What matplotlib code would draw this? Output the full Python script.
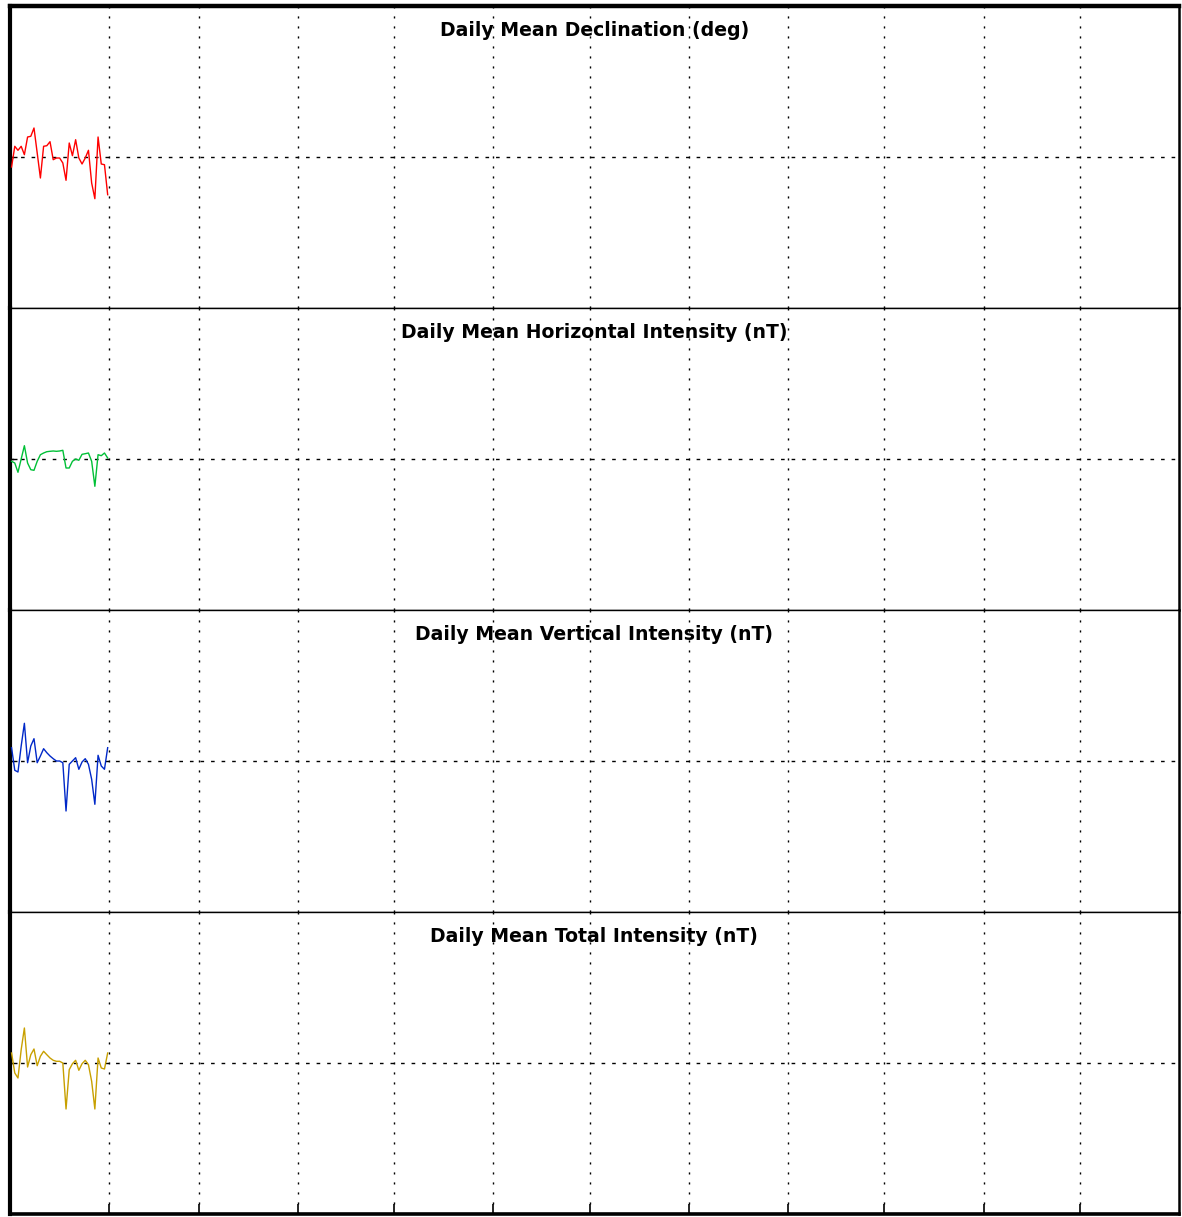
import datetime as dt
import matplotlib
matplotlib.use("Agg")
import matplotlib.pyplot as plt

plt.rcParams['font.family'] = ['DejaVu Sans']

# ---- data (daily means for January, shown as deviation from panel centre) ----
days = list(range(1, 32))
titles = ["Daily Mean Declination (deg)",
          "Daily Mean Horizontal Intensity (nT)",
          "Daily Mean Vertical Intensity (nT)",
          "Daily Mean Total Intensity (nT)"]
colors = ["#ff0000", "#00c036", "#0028c8", "#c8a000"]

declination = [-10, 10.7, 6.7, 10.7, 2.3, 20, 20.7, 29, 4, -21, 10.7, 11.3, 15.3,
               -2.7, -1, -1, -6, -23.3, 14, 1.3, 17.3, -1, -7, -1, 6.7, -26,
               -41.7, 20, -7, -7.7, -37.7]
horizontal = [-2.3, -4, -13.3, 0, 13.3, -4, -10.7, -11.3, -2.3, 4.3, 6, 7.3, 7.7,
              8, 7.7, 8, 8.7, -9, -9, -2.3, 0, -1.3, 4.7, 5.3, 6, -2.3, -27.3,
              4.3, 3.3, 6, 1]
vertical = [13.3, -9.3, -11, 15, 37.7, -1.7, 15, 22.3, -1.7, 5, 12.3, 8.3, 5,
            2.3, 0, 0, -1.7, -50, -3.3, 0, 3.3, -8.3, -1, 2.3, -3.3, -18.3,
            -43.3, 5.7, -5, -8.3, 13.3]
total = [10, -10, -15, 13.3, 35, -4, 8.3, 14, -2.7, 6.7, 11.7, 8.3, 5, 2.7, 1.7,
         1.7, 0, -46, -6.7, -0.7, 2.7, -7.3, -0.7, 2.7, -1.7, -18.3, -46, 5, -5,
         -6, 10]
series = [declination, horizontal, vertical, total]
centre = 0.0
half_range = 151.0

year = 2015
x = [dt.datetime(year, 1, d, 14) for d in days]
xmin = dt.datetime(year, 1, 1)
xmax = dt.datetime(year + 1, 1, 1)
month_ticks = [dt.datetime(year, m, 1) for m in range(2, 13)]

fig = plt.figure(figsize=(11.82, 12.17), dpi=100)
gs = fig.add_gridspec(4, 1, left=9.7 / 1182, right=1179 / 1182,
                      top=1 - 6 / 1217, bottom=1 - 1214 / 1217, hspace=0)

for i in range(4):
    ax = fig.add_subplot(gs[i])
    ax.plot(x, series[i], color=colors[i], lw=1.0, zorder=3)
    ax.set_xlim(xmin, xmax)
    ax.set_ylim(centre - half_range, centre + half_range)
    ax.set_xticks(month_ticks)
    ax.set_yticks([centre])
    ax.set_xticklabels([])
    ax.set_yticklabels([])
    ax.xaxis.grid(True, color='black', lw=1.0, linestyle=(0, (1.5, 5.7)), zorder=1)
    ax.yaxis.grid(True, color='black', lw=1.0, linestyle=(0, (2.6, 5.0)), zorder=1)
    ax.tick_params(axis='y', direction='in', length=5, width=1, left=True)
    if i == 3:
        ax.tick_params(axis='x', direction='in', length=7.5, width=1.2, bottom=True)
    else:
        ax.tick_params(axis='x', direction='in', length=0, bottom=True)
    ax.text(0.5, 0.918, titles[i], transform=ax.transAxes, ha='center', va='center',
            fontsize=13.6, fontweight='bold', zorder=5)
    for s in ax.spines.values():
        s.set_linewidth(1.0)
    ax.spines['left'].set_linewidth(3.0)
    ax.spines['right'].set_linewidth(1.8)
    if i == 0:
        ax.spines['top'].set_linewidth(3.2)
    if i == 3:
        ax.spines['bottom'].set_linewidth(2.6)

fig.savefig("out.png", dpi=100)
